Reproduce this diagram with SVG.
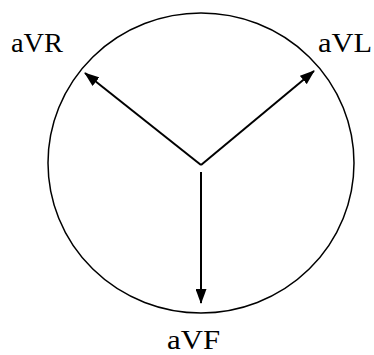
<svg xmlns="http://www.w3.org/2000/svg" width="374" height="355" viewBox="0 0 374 355">
<style>
.lbl{font-family:"Liberation Serif","Times New Roman",serif;font-size:27px;fill:#000}
.ax{stroke:#000;stroke-width:2;fill:none}
</style>
<defs>
<marker id="ah" markerUnits="userSpaceOnUse" markerWidth="15" markerHeight="11" refX="14" refY="5.5" orient="auto">
<path d="M0,0 L15,5.5 L0,11 Z" fill="#000"/>
</marker>
</defs>
<rect width="374" height="355" fill="#fff"/>
<g id="circle"><ellipse cx="201" cy="163" rx="153" ry="150" fill="none" stroke="#000" stroke-width="1.5"/></g>
<g id="connectors">
<line class="ax" x1="201" y1="165" x2="85" y2="73" marker-end="url(#ah)"/>
<line class="ax" x1="201" y1="165" x2="314" y2="71" marker-end="url(#ah)"/>
<line class="ax" x1="201" y1="172" x2="201" y2="303" marker-end="url(#ah)"/>
</g>
<g id="aVR"><text class="lbl" x="11" y="52" textLength="52" lengthAdjust="spacingAndGlyphs">aVR</text></g>
<g id="aVL"><text class="lbl" x="318" y="52" textLength="54" lengthAdjust="spacingAndGlyphs">aVL</text></g>
<g id="aVF"><text class="lbl" x="167" y="349" textLength="53" lengthAdjust="spacingAndGlyphs">aVF</text></g>
</svg>
